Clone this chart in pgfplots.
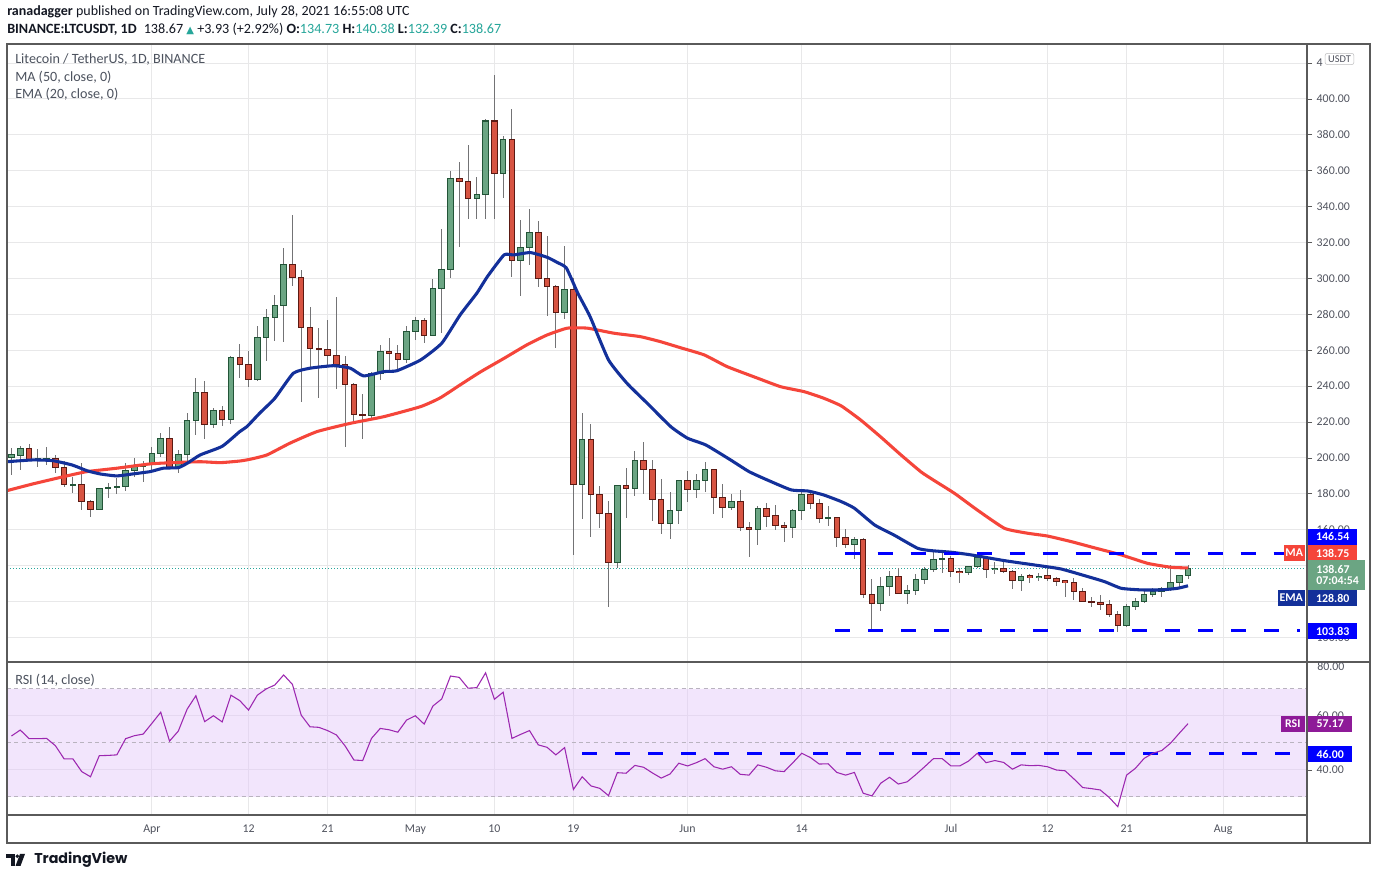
\documentclass[border=0pt]{standalone}
\usepackage{fontspec}
\setmainfont{Carlito}
\newfontfamily\symfont{DejaVu Sans}
\newfontfamily\logofont{Poppins}
\usepackage{pgfplots}
\pgfplotsset{compat=1.18}
\usepackage{pgfplotstable}
\definecolor{upfill}{HTML}{6BA583}
\definecolor{upline}{HTML}{225437}
\definecolor{dnfill}{HTML}{D75442}
\definecolor{dnline}{HTML}{5B1A13}
\definecolor{wick}{HTML}{737375}
\definecolor{mared}{HTML}{F5453A}
\definecolor{emablue}{HTML}{13309A}
\definecolor{lvlblue}{HTML}{0000FF}
\definecolor{rsipur}{HTML}{9C27B0}
\definecolor{rsibox}{HTML}{8E1A98}
\definecolor{rsiband}{HTML}{E1C2FA}
\definecolor{bandline}{HTML}{B9B3BF}
\definecolor{gridc}{HTML}{E8E8E9}
\definecolor{framec}{HTML}{5A5A5A}
\definecolor{txt}{HTML}{50535E}
\definecolor{tvteal}{HTML}{26A69A}
\definecolor{pricebox}{HTML}{6BA583}
\definecolor{dark}{HTML}{131722}
\definecolor{legtxt}{HTML}{4C525E}

\pgfplotstableread{
d O H L C
-16 200.4 205.6 190.5 201.7
-15 201.3 206.7 193.3 205.4
-13 199.3 205.0 195.0 199.6
-12 199.5 206.0 196.0 199.7
-9 185.0 189.4 180.5 185.3
-6 171.4 183.5 171.0 183.1
-5 183.1 186.2 177.5 183.6
-4 183.6 188.9 180.0 183.9
-3 183.9 197.2 181.8 193.1
-2 193.1 200.0 189.4 195.5
-1 195.5 198.5 186.5 196.5
0 196.5 206.3 193.3 202.6
1 202.6 213.8 200.4 211.0
3 194.8 204.5 191.8 202.0
4 202.0 224.9 197.9 220.8
5 220.8 244.4 212.8 236.6
7 218.8 228.0 216.5 226.2
9 221.2 257.0 218.8 256.1
12 243.8 273.5 243.0 267.2
13 267.2 283.0 254.2 278.4
14 278.4 290.8 265.3 285.1
15 285.1 316.8 264.8 307.9
25 223.8 248.1 221.2 247.2
26 247.2 263.0 243.5 259.2
29 255.0 273.5 253.0 270.4
30 270.4 278.8 265.7 276.5
32 268.4 299.6 268.0 294.5
33 294.5 327.6 269.5 305.1
34 305.1 359.9 300.1 355.8
37 344.7 356.4 333.0 346.9
38 346.9 388.9 333.0 387.7
40 358.6 379.4 344.7 377.5
42 309.9 332.6 290.3 317.4
43 317.4 338.7 307.5 325.7
47 281.2 318.1 277.6 293.6
49 185.3 224.9 165.8 210.4
53 141.9 184.6 138.9 184.6
55 183.1 203.9 179.0 198.5
59 163.6 181.2 154.7 170.5
60 170.5 187.7 163.0 187.7
62 182.5 191.1 177.9 187.2
63 187.2 197.6 181.2 193.3
66 172.5 180.0 171.0 176.0
69 160.3 173.3 151.5 172.0
73 161.4 171.4 155.6 170.5
74 170.5 182.2 165.5 179.8
77 166.4 173.0 162.1 166.8
80 151.9 155.8 143.6 154.7
83 119.1 133.5 114.9 128.3
84 128.3 137.0 123.3 133.9
86 124.7 129.2 118.5 126.3
87 126.3 135.2 123.7 132.4
88 132.4 139.1 129.6 137.6
89 137.6 148.7 136.7 143.6
90 143.6 147.8 135.8 144.1
93 136.3 140.0 135.0 139.4
94 139.4 147.8 138.8 144.7
96 137.6 142.2 135.2 138.6
99 132.0 135.2 125.9 133.9
101 133.5 135.8 131.5 134.1
111 106.6 118.7 106.0 117.2
112 117.2 121.8 115.3 119.9
113 119.9 126.5 119.1 124.1
114 124.1 127.8 122.7 125.5
115 125.5 128.3 122.7 127.4
116 127.4 140.4 125.9 130.7
117 130.7 134.8 127.4 134.3
118 134.73 140.38 132.39 138.67
}\upc

\pgfplotstableread{
d O H L C
-14 205.4 207.8 198.5 199.3
-11 199.7 201.7 191.6 194.8
-10 194.8 198.5 184.0 185.3
-8 185.3 197.2 171.0 175.9
-7 175.9 176.5 167.3 171.4
2 211.0 217.4 194.0 194.8
6 236.6 242.9 210.4 218.8
8 226.2 228.9 217.8 221.2
10 256.1 263.5 244.4 252.2
11 252.2 259.6 239.7 243.8
16 307.9 335.4 296.0 300.7
17 300.7 304.7 231.0 272.8
18 272.8 283.9 249.4 261.1
19 261.1 272.3 233.6 260.6
20 260.6 276.9 251.8 257.2
21 257.2 289.9 238.4 252.2
22 252.2 256.8 206.3 241.1
23 241.1 242.0 219.7 224.3
24 224.3 235.7 210.4 223.8
27 259.2 266.7 247.2 258.3
28 258.3 263.0 248.1 255.0
31 276.5 277.8 264.2 268.4
35 355.8 364.7 317.7 354.1
36 354.1 374.4 333.0 344.7
39 387.7 413.4 333.1 358.6
41 377.5 394.4 300.7 309.9
44 325.7 332.0 295.4 300.1
45 300.1 323.7 279.1 295.4
46 295.4 296.4 261.1 281.2
48 293.6 300.1 146.0 185.3
50 210.4 218.9 156.2 179.8
51 179.8 184.4 161.2 169.2
52 169.2 176.0 117.2 141.9
54 184.6 194.3 166.7 183.1
56 198.5 208.7 179.8 193.7
57 193.7 198.9 165.0 177.0
58 177.0 188.3 157.5 163.6
61 187.7 192.8 175.3 182.5
64 193.3 193.8 168.6 177.9
65 177.9 185.3 166.7 172.5
67 176.0 182.2 159.5 161.2
68 161.4 164.2 144.7 160.3
70 172.0 174.8 161.8 167.3
71 167.9 173.8 159.9 162.3
72 162.3 164.2 153.4 161.4
75 179.8 181.6 171.4 174.8
76 174.8 177.0 163.6 166.4
78 166.7 167.0 150.6 155.8
79 155.8 160.3 150.0 151.9
81 154.7 155.3 122.0 124.1
82 124.1 132.6 104.2 119.1
85 133.9 138.6 124.1 124.7
91 144.1 145.4 133.5 137.0
92 137.0 138.6 130.2 136.3
95 144.7 145.6 133.3 137.6
97 138.6 142.2 135.8 137.0
98 137.0 137.6 127.2 132.0
100 134.3 135.2 130.2 133.5
102 134.3 139.1 131.5 132.8
103 133.0 133.9 128.7 131.1
104 131.5 132.0 122.7 130.7
105 130.7 133.0 120.9 125.5
106 125.5 127.4 119.5 119.9
107 119.9 122.4 117.2 119.4
108 119.6 123.7 115.3 118.5
109 118.5 120.9 111.6 112.9
110 112.9 114.8 103.3 106.6
}\dnc

\pgfplotstableread{
d v
-16.5 181.8
-13.6 185.5
-9.7 190.0
-7.4 192.4
-4.0 194.3
-0.2 196.7
2.4 197.4
5.5 197.9
7.8 197.4
10.0 198.3
11.2 199.3
13.1 201.7
15.7 208.2
18.8 214.7
22.6 219.3
26.4 223.0
30.6 228.6
32.8 233.4
35.1 240.7
37.4 247.9
40.1 255.5
42.7 263.0
45.0 268.5
47.3 272.3
49.6 272.3
52.6 269.5
55.6 267.6
57.9 264.8
60.2 261.4
62.9 257.4
65.5 250.9
69.0 244.4
71.6 239.7
74.3 236.9
76.5 233.3
78.5 229.0
80.7 221.2
83.0 211.7
85.3 201.7
87.6 192.2
89.0 187.7
91.4 180.3
94.0 171.0
97.1 160.8
99.7 158.1
102.0 156.5
104.7 153.4
107.3 150.0
110.4 146.0
113.4 141.3
116.1 139.1
118.0 138.75
}\matab

\pgfplotstableread{
d v
-16.5 197.9
-13.6 198.9
-11.3 198.5
-9.1 196.1
-7.4 192.9
-5.9 191.1
-4.0 190.0
-2.2 191.1
-0.2 192.4
1.3 194.3
3.0 194.6
4.0 197.0
5.5 201.7
8.0 206.5
10.0 214.7
10.8 217.4
12.3 225.1
14.0 233.3
16.1 247.2
18.0 250.0
20.7 251.4
22.6 250.0
24.1 245.7
26.4 248.1
27.9 248.6
30.6 254.6
33.0 263.9
35.1 279.7
37.0 291.8
38.2 301.0
40.1 313.1
41.2 313.1
43.1 314.4
45.0 311.8
46.2 308.8
47.2 305.8
48.5 291.8
49.9 278.7
52.0 254.6
54.1 241.6
56.4 230.5
59.1 217.4
61.0 211.0
63.1 207.2
65.9 198.9
68.0 192.4
70.1 187.7
72.8 182.2
74.7 181.6
76.5 179.4
78.5 175.7
80.0 172.0
82.3 162.7
84.5 157.1
87.2 149.7
88.7 148.4
91.0 147.5
93.3 146.0
97.1 142.8
100.5 140.4
103.5 138.2
106.6 133.9
108.5 131.1
110.4 127.4
112.7 126.5
114.9 126.5
116.8 127.4
118.0 128.8
}\ematab

\pgfplotstableread{
d v
-16 52.6
-15 54.8
-14 51.6
-13 51.6
-12 51.7
-11 49.0
-10 44.1
-9 44.1
-8 39.4
-7 37.5
-6 45.3
-5 45.4
-4 45.6
-3 51.6
-2 52.7
-1 53.3
0 57.3
1 61.4
2 50.7
3 54.4
4 62.5
5 67.5
6 57.9
7 60.1
8 57.8
9 67.7
10 65.7
11 62.2
12 67.7
13 70.0
14 71.5
15 75.2
16 71.7
17 60.3
18 56.0
19 55.8
20 54.6
21 53.0
22 48.9
23 43.7
24 43.5
25 51.7
26 55.4
27 54.9
28 54.0
29 58.5
30 60.1
31 57.0
32 63.7
33 66.3
34 74.8
35 74.3
36 70.3
37 70.5
38 76.0
39 66.2
40 68.8
41 51.7
42 53.2
43 54.6
44 49.3
45 48.4
46 45.6
47 48.3
48 32.8
49 37.5
50 34.1
51 33.2
52 30.5
53 39.0
54 38.8
55 41.7
56 41.0
57 38.9
58 37.0
59 38.5
60 42.5
61 41.5
62 42.7
63 44.2
64 41.2
65 40.3
66 41.2
67 38.4
68 38.1
69 41.9
70 41.0
71 39.7
72 39.4
73 42.7
74 46.2
75 44.6
76 42.2
77 42.3
78 39.1
79 38.1
80 39.1
81 31.4
82 30.4
83 35.1
84 37.3
85 34.8
86 35.6
87 38.3
88 41.2
89 44.2
90 44.2
91 41.5
92 41.5
93 43.3
94 46.2
95 42.7
96 43.5
97 42.8
98 40.3
99 41.9
100 41.6
101 41.7
102 41.2
103 40.0
104 39.7
105 36.7
106 33.5
107 33.1
108 32.6
109 29.9
110 26.4
111 38.1
112 40.6
113 44.3
114 46.2
115 47.2
116 49.9
117 53.6
118 57.17
}\rsitab

\pgfplotsset{
  candlebar/.style n args={2}{draw=none, mark=none, forget plot,
    error bars/.cd, y dir=both, y explicit, error mark=none,
    error bar style={draw=#1, line width=#2, solid}},
}
\newcommand{\candles}[3]{%
  \addplot[candlebar={wick}{0.75pt}] table[x=d, y expr={(\thisrow{H}+\thisrow{L})/2}, y error expr={(\thisrow{H}-\thisrow{L})/2}] {#1};
  \addplot[candlebar={#3}{4.9pt}] table[x=d, y expr={(\thisrow{O}+\thisrow{C})/2}, y error expr={abs(\thisrow{C}-\thisrow{O})/2+0.28}] {#1};
  \addplot[candlebar={#2}{3.4pt}] table[x=d, y expr={(\thisrow{O}+\thisrow{C})/2}, y error expr={max(abs(\thisrow{C}-\thisrow{O})/2-0.28,0)}] {#1};
}

\begin{document}
\begin{tikzpicture}[x=0.75pt,y=0.75pt]
\path[use as bounding box, fill=white] (0,0) rectangle (1376,880);

% ---------- main price panel ----------
\begin{axis}[
  at={(5.25pt,163.5pt)}, anchor=south west,
  width=975pt, height=463.5pt, scale only axis,
  xmin=-16.51, xmax=131.55, ymin=86.35, ymax=430.6,
  axis line style={draw=framec, line width=0.9pt},
  xtick={0,11,20,30,39,48,61,74,91,102,111,122}, xticklabels={,,,,,,,,,,,},
  xtick style={draw=none},
  ytick={100,120,...,420}, ytick pos=right, yticklabel pos=right,
  yticklabels={100.00,,,160.00,180.00,200.00,220.00,240.00,260.00,280.00,300.00,320.00,340.00,360.00,380.00,400.00,4},
  tick align=outside, major tick length=3.75pt,
  ytick style={draw=framec, line width=0.6pt},
  yticklabel style={font=\fontsize{8.9}{10}\selectfont, text=txt},
  grid=major, grid style={draw=gridc, line width=0.75pt},
]
\addplot[tvteal, line width=0.75pt, dash pattern=on 0.75pt off 1.5pt, forget plot] coordinates {(-16.51,138.67) (131.55,138.67)};
\candles{\upc}{upfill}{upline}
\candles{\dnc}{dnfill}{dnline}
\addplot[mared, line width=2.3pt, smooth, tension=0.3] table[x=d, y=v] {\matab};
\addplot[emablue, line width=2.3pt, smooth, tension=0.3] table[x=d, y=v] {\ematab};
\addplot[lvlblue, line width=2.25pt, dash pattern=on 11.25pt off 13.5pt] coordinates {(78.9,146.54) (130.7,146.54)};
\addplot[lvlblue, line width=2.25pt, dash pattern=on 11.25pt off 13.5pt] coordinates {(77.8,103.83) (130.7,103.83)};
\end{axis}

% ---------- RSI panel ----------
\begin{axis}[
  at={(5.25pt,48.75pt)}, anchor=south west,
  width=975pt, height=114.75pt, scale only axis,
  xmin=-16.51, xmax=131.55, ymin=23.33, ymax=80,
  axis line style={draw=framec, line width=0.9pt},
  xtick={0,11,20,30,39,48,61,74,91,102,111,122},
  xticklabels={Apr,12,21,May,10,19,Jun,14,Jul,12,21,Aug},
  xticklabel style={font=\fontsize{8.9}{10}\selectfont, text=txt},
  xtick style={draw=none},
  ytick={40,60}, ytick pos=right, yticklabel pos=right,
  yticklabels={40.00,60.00},
  tick align=outside, major tick length=3.75pt,
  ytick style={draw=framec, line width=0.6pt},
  yticklabel style={font=\fontsize{8.9}{10}\selectfont, text=txt},
  grid=major, grid style={draw=gridc, line width=0.75pt},
]
\addplot[draw=none, fill=rsiband, fill opacity=0.42] coordinates {(-16.51,30) (131.55,30) (131.55,70) (-16.51,70) (-16.51,30)};
\addplot[bandline, line width=0.75pt, dash pattern=on 3pt off 2.5pt] coordinates {(-16.51,70) (131.55,70)};
\addplot[bandline, line width=0.75pt, dash pattern=on 3pt off 2.5pt] coordinates {(-16.51,50) (131.55,50)};
\addplot[bandline, line width=0.75pt, dash pattern=on 3pt off 2.5pt] coordinates {(-16.51,30) (131.55,30)};
\addplot[lvlblue, line width=2.25pt, dash pattern=on 11.25pt off 13.5pt] coordinates {(49.0,46) (129.7,46)};
\addplot[rsipur, line width=0.8pt] table[x=d, y=v] {\rsitab};
\end{axis}

% ---------- frame ----------
\draw[framec, line width=0.9pt] (7,836) -- (1370,836) -- (1370,37) -- (7,37) -- cycle;
\draw[framec, line width=0.9pt] (7,218) -- (1370,218);
\draw[framec, line width=0.9pt] (1307,836) -- (1307,37);
\draw[framec, line width=0.9pt] (7,65) -- (1307,65);

% ---------- header ----------
\node[anchor=west, inner sep=0, text=dark, font=\fontsize{10.5}{12}\selectfont] at (7,868) {\textbf{ranadagger} published on TradingView.com, July 28, 2021 16:55:08 UTC};
\node[anchor=west, inner sep=0, text=dark, font=\fontsize{10.6}{12}\selectfont] at (7,851) {\textbf{BINANCE:LTCUSDT, 1D}\enspace 138.67 \textcolor{tvteal}{\symfont\fontsize{7.5}{8}\selectfont ▲} +3.93 (+2.92\%) \textbf{O:}\textcolor{tvteal}{134.73} \textbf{H:}\textcolor{tvteal}{140.38} \textbf{L:}\textcolor{tvteal}{132.39} \textbf{C:}\textcolor{tvteal}{138.67}};

% legend texts
\node[anchor=west, inner sep=0, text=legtxt, font=\fontsize{10.6}{12}\selectfont] at (15,820) {Litecoin / TetherUS, 1D, BINANCE};
\node[anchor=west, inner sep=0, text=legtxt, font=\fontsize{10.6}{12}\selectfont] at (15,803) {MA (50, close, 0)};
\node[anchor=west, inner sep=0, text=legtxt, font=\fontsize{10.6}{12}\selectfont] at (15,786) {EMA (20, close, 0)};
\node[anchor=west, inner sep=0, text=legtxt, font=\fontsize{10.6}{12}\selectfont] at (15,200) {RSI (14, close)};

% right-hand labels
\tikzset{lab/.style={anchor=west, inner sep=0, minimum height=12pt, text=white, font=\bfseries\fontsize{8.9}{10}\selectfont}}
\node[anchor=west, inner sep=0, text=txt, font=\fontsize{8.9}{10}\selectfont] at (1317,214) {80.00};
\node[draw=gridc!60!gray, fill=white, rounded corners=1.5pt, inner xsep=2.2pt, inner ysep=1.6pt, text=txt, font=\fontsize{7.8}{8}\selectfont] at (1339.5,821) {USDT};
\node[lab, fill=lvlblue, minimum width=36.75pt] at (1308,343) {146.54};
\node[lab, fill=mared, minimum width=15.75pt, anchor=east] at (1305,327) {MA};
\node[lab, fill=mared, minimum width=36.75pt] at (1308,327) {138.75};
\node[anchor=north west, inner sep=0, fill=pricebox, minimum width=42.75pt, minimum height=22.5pt, text=white, font=\bfseries\fontsize{8.9}{10}\selectfont, align=left, text width=42.75pt, inner xsep=0pt] at (1308,320) {\hspace*{6pt}138.67\\[-1.5pt]\hspace*{6pt}07:04:54};
\node[lab, fill=emablue, minimum width=20.25pt, anchor=east] at (1305,282) {EMA};
\node[lab, fill=emablue, minimum width=36.75pt] at (1308,282) {128.80};
\node[lab, fill=lvlblue, minimum width=36.75pt] at (1308,249) {103.83};
\node[lab, fill=rsibox, minimum width=18pt, anchor=east] at (1305,156) {RSI};
\node[lab, fill=rsibox, minimum width=33pt] at (1308,156) {57.17};
\node[lab, fill=lvlblue, minimum width=33pt] at (1308,126) {46.00};

% TradingView logo
\fill[dark] (6,26) rectangle (14.5,22);
\fill[dark] (10.5,26) rectangle (14.5,14);
\fill[dark] (17.3,23.8) circle (1.9);
\fill[dark] (20,26) -- (25,26) -- (20.5,14) -- (15.5,14) -- cycle;
\node[anchor=west, inner sep=0, text=dark, font=\logofont\bfseries\fontsize{10.7}{12}\selectfont] at (34,20) {TradingView};
\end{tikzpicture}
\end{document}
